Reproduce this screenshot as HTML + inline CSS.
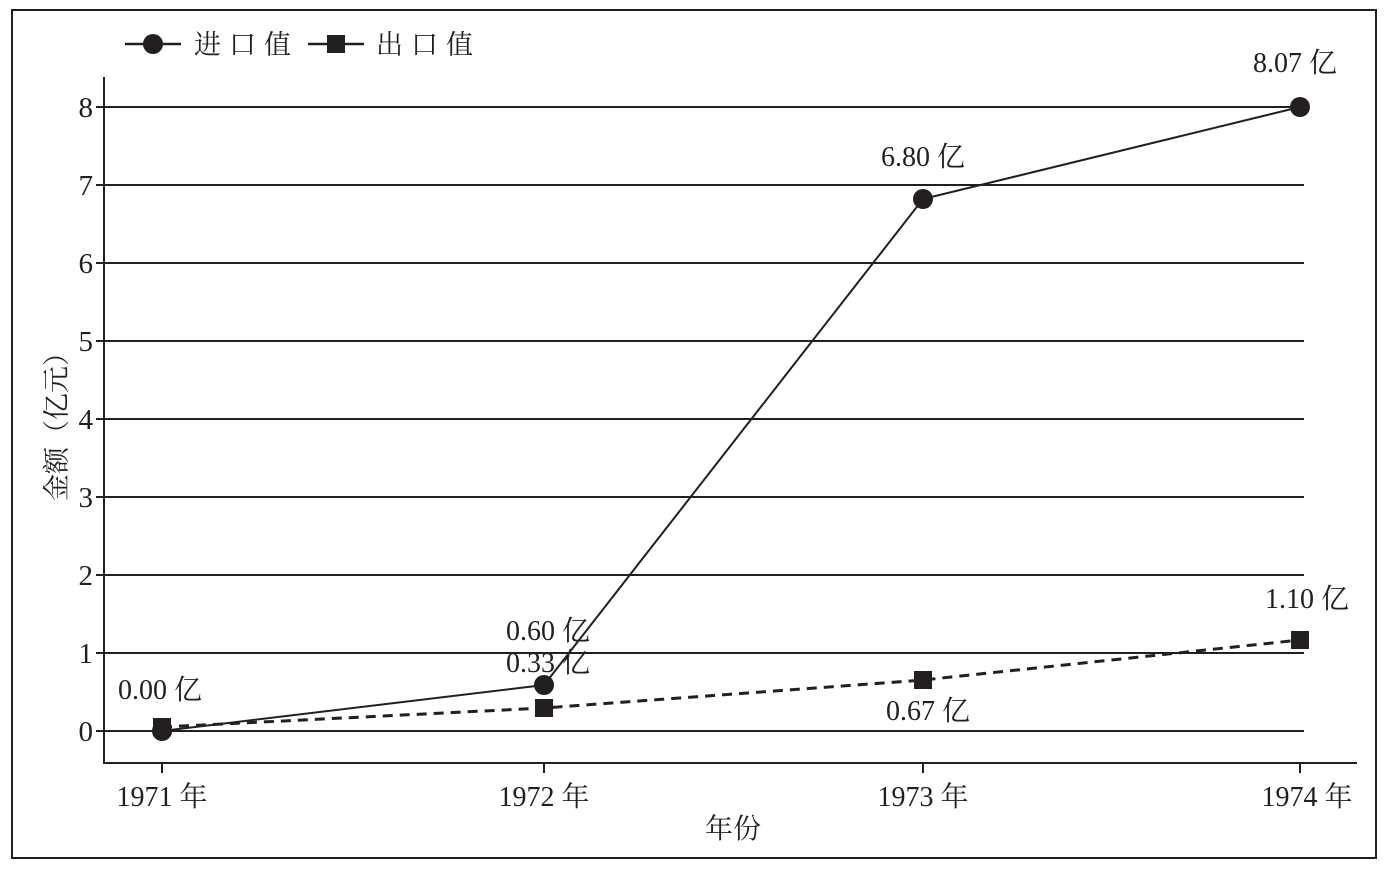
<!DOCTYPE html>
<html><head><meta charset="utf-8"><style>
body{margin:0;background:#fff;}
svg text{font-family:"Liberation Serif","Noto Serif CJK SC",serif;fill:#231f20;}
</style></head><body>
<svg width="1387" height="865" viewBox="0 0 1387 865" xmlns="http://www.w3.org/2000/svg">
<rect x="12" y="10" width="1364" height="848" fill="none" stroke="#231f20" stroke-width="2"/>
<g stroke="#231f20" stroke-width="2">
<line x1="104" y1="107" x2="1304" y2="107"/>
<line x1="104" y1="185" x2="1304" y2="185"/>
<line x1="104" y1="263" x2="1304" y2="263"/>
<line x1="104" y1="341" x2="1304" y2="341"/>
<line x1="104" y1="419" x2="1304" y2="419"/>
<line x1="104" y1="497" x2="1304" y2="497"/>
<line x1="104" y1="575" x2="1304" y2="575"/>
<line x1="104" y1="653" x2="1304" y2="653"/>
<line x1="104" y1="731" x2="1304" y2="731"/>
<line x1="104" y1="77" x2="104" y2="763"/>
<line x1="103" y1="763" x2="1357" y2="763"/>
<line x1="96" y1="107" x2="104" y2="107"/><line x1="96" y1="185" x2="104" y2="185"/>
<line x1="96" y1="263" x2="104" y2="263"/><line x1="96" y1="341" x2="104" y2="341"/>
<line x1="96" y1="419" x2="104" y2="419"/><line x1="96" y1="497" x2="104" y2="497"/>
<line x1="96" y1="575" x2="104" y2="575"/><line x1="96" y1="653" x2="104" y2="653"/>
<line x1="96" y1="731" x2="104" y2="731"/>
<line x1="162" y1="763" x2="162" y2="773"/><line x1="544" y1="763" x2="544" y2="773"/>
<line x1="923" y1="763" x2="923" y2="773"/><line x1="1300" y1="763" x2="1300" y2="773"/>
</g>
<g font-size="29" text-anchor="end">
<text x="93" y="117">8</text><text x="93" y="195">7</text><text x="93" y="273">6</text>
<text x="93" y="351">5</text><text x="93" y="429">4</text><text x="93" y="507">3</text>
<text x="93" y="585">2</text><text x="93" y="663">1</text><text x="93" y="741">0</text>
</g>
<g font-size="28" text-anchor="middle">
<text x="162" y="806">1971 年</text><text x="544" y="806">1972 年</text>
<text x="923" y="806">1973 年</text><text x="1307" y="806">1974 年</text>
<text x="733" y="838">年份</text>
</g>
<text font-size="27" text-anchor="middle" transform="translate(66,420) rotate(-90)">金额（亿元）</text>
<polyline points="162,731 544,685 923,199 1300,107" fill="none" stroke="#231f20" stroke-width="2"/>
<polyline points="162,727 544,708 923,680 1300,640" fill="none" stroke="#231f20" stroke-width="3" stroke-dasharray="10,7"/>
<g fill="#231f20">
<circle cx="162" cy="731" r="10"/><circle cx="544" cy="685" r="10"/>
<circle cx="923" cy="199" r="10"/><circle cx="1300" cy="107" r="10"/>
<rect x="153" y="718" width="18" height="18"/><rect x="535" y="699" width="18" height="18"/>
<rect x="914" y="671" width="18" height="18"/><rect x="1291" y="631" width="18" height="18"/>
</g>
<g font-size="28" text-anchor="middle">
<text x="160" y="699">0.00 亿</text>
<text x="548" y="640">0.60 亿</text>
<text x="548" y="672">0.33 亿</text>
<text x="923" y="166">6.80 亿</text>
<text x="1295" y="72">8.07 亿</text>
<text x="1307" y="608">1.10 亿</text>
<text x="928" y="720">0.67 亿</text>
</g>
<g stroke="#231f20" stroke-width="2.5">
<line x1="125" y1="44" x2="181" y2="44"/><line x1="308" y1="44" x2="364" y2="44"/>
</g>
<circle cx="153" cy="44" r="10" fill="#231f20"/>
<rect x="327" y="35" width="18" height="18" fill="#231f20"/>
<text x="194" y="54" font-size="27" letter-spacing="8">进口值</text>
<text x="376" y="54" font-size="27" letter-spacing="8">出口值</text>
</svg>
</body></html>
